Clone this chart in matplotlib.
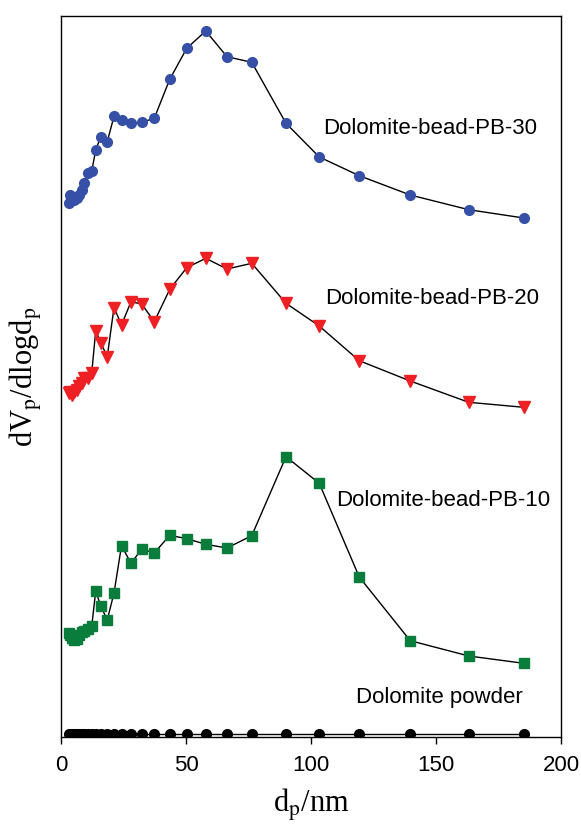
#!/usr/bin/env python3
"""Pore size distribution of dolomite powder and dolomite beads (stacked curves)."""
import matplotlib
matplotlib.use('Agg')
import matplotlib.pyplot as plt

plt.rcParams.update({
    'font.family': 'Liberation Sans',
    'mathtext.fontset': 'stix',
    'axes.linewidth': 1.0,
})

# pore diameter (nm), shared by all samples
dp = [3.2, 3.6, 4.4, 5.2, 6.2, 7.2, 8.3, 9.3, 10.7, 12.3, 13.9, 15.9, 18.5,
      21.2, 24.2, 28.0, 32.3, 37.3, 43.5, 50.3, 57.9, 66.4, 76.3, 90.0,
      103.3, 119.3, 139.7, 163.1, 185.1]

# dVp/dlogdp, arbitrary units (curves are offset vertically)
pb30 = [537.5, 545, 540, 540, 542, 545, 550, 557, 567, 569, 590, 603.5, 598.3,
        623.7, 620, 616.7, 617.7, 621.7, 660.7, 691.7, 709, 683.3, 677.7, 616.7,
        583, 564.3, 545, 530.3, 522]
pb20 = [347.3, 348.3, 345, 348, 350, 354, 356.7, 361.7, 362.5, 367.3, 409.5,
        397.3, 383.3, 432.5, 415, 438.3, 436, 418.3, 450.7, 472.3, 481.7, 471,
        476.7, 436.7, 414, 379.3, 359, 337.7, 332.7]
pb10 = [106.7, 105, 102, 100, 101, 105, 108, 109.3, 110.7, 114, 149, 134, 120,
        147, 194.3, 176.7, 191, 187, 204.7, 201.3, 195.7, 192, 204.3, 283.3,
        256.7, 163, 99.3, 84, 76.7]
powder = [6.5] * len(dp)

fig = plt.figure(figsize=(5.81, 8.24), dpi=100)
ax = fig.add_axes([61 / 581, 1 - 737 / 824, 500 / 581, 721 / 824])

ax.plot(dp, pb30, color='black', lw=1.0, marker='o', ms=7,
        mfc='#3550a6', mec='#3550a6', zorder=3)
ax.plot(dp, pb20, color='black', lw=1.0, marker='v', ms=8,
        mfc='#ee2024', mec='#ee2024', zorder=3)
ax.plot(dp, pb10, color='black', lw=1.0, marker='s', ms=6.5,
        mfc='#0a7d3c', mec='#0a7d3c', zorder=3)
ax.plot(dp, powder, color='black', lw=1.0, marker='o', ms=7,
        mfc='black', mec='black', zorder=3)

ax.text(104.8, 612, 'Dolomite-bead-PB-30', fontsize=16, va='center', ha='left')
ax.text(105.6, 441, 'Dolomite-bead-PB-20', fontsize=16, va='center', ha='left')
ax.text(110, 240, 'Dolomite-bead-PB-10', fontsize=16, va='center', ha='left')
ax.text(118, 43, 'Dolomite powder', fontsize=16, va='center', ha='left')

ax.set_xlim(0, 200)
ax.set_ylim(3, 724)
ax.set_xticks([0, 50, 100, 150, 200])
ax.set_yticks([])
ax.tick_params(axis='x', direction='out', length=5, width=1.0, labelsize=16, pad=8)

ax.set_xlabel(r'd$_\mathrm{p}$/nm', fontsize=22, family='Liberation Serif', labelpad=8)
ax.set_ylabel(r'dV$_\mathrm{p}$/dlogd$_\mathrm{p}$', fontsize=22,
              family='Liberation Serif', labelpad=12)

fig.savefig('out.png', dpi=100)
